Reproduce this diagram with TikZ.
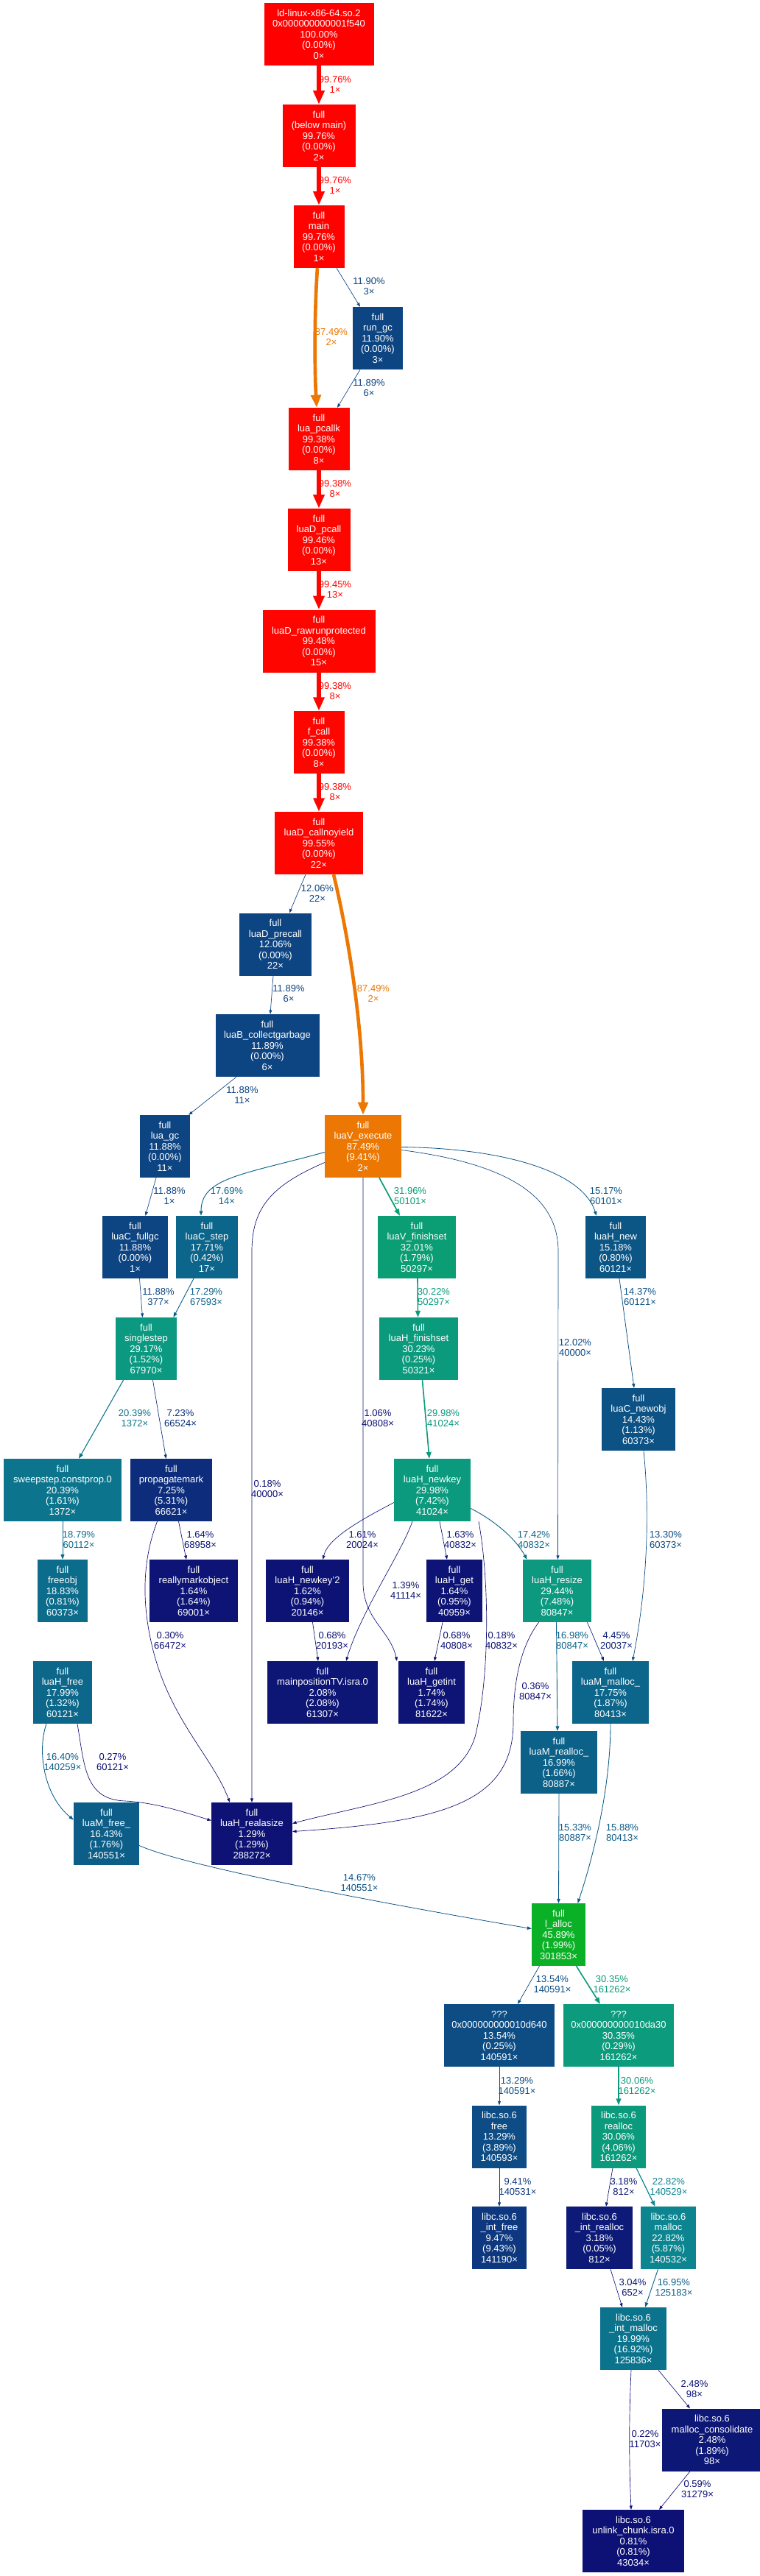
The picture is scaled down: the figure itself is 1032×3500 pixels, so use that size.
\documentclass[tikz,border=0pt]{standalone}
\usepackage{fontspec}
\setmainfont{Liberation Sans}
\usetikzlibrary{arrows.meta}
\newcounter{lab}
\newcommand\mkcol[2]{%
  \pgfmathsetmacro\cH{8*(1-#2)}%
  \pgfmathsetmacro\cS{0.8+0.2*#2}%
  \pgfmathsetmacro\cL{0.25+0.25*#2}%
  \pgfmathsetmacro\cA{\cS*\cL}%
  \pgfmathsetmacro\cR{\cL-\cA*max(-1,min(mod(0+\cH,12)-3,9-mod(0+\cH,12),1))}%
  \pgfmathsetmacro\cG{\cL-\cA*max(-1,min(mod(8+\cH,12)-3,9-mod(8+\cH,12),1))}%
  \pgfmathsetmacro\cB{\cL-\cA*max(-1,min(mod(4+\cH,12)-3,9-mod(4+\cH,12),1))}%
  \edef\tmpdef{\noexpand\definecolor{#1}{rgb}{\cR,\cG,\cB}}\tmpdef}
\tikzset{
  gnode/.style={rectangle, draw=none, minimum height=85pt, inner sep=0pt, align=center, text=white, font=\fontsize{13pt}{14.5pt}\selectfont},
  elab/.style={align=center, inner sep=0pt, font=\fontsize{13pt}{14.5pt}\selectfont},
}
\newcommand\GN[5]{\mkcol{c#1}{#4}\node[gnode, fill=c#1, minimum width=#3pt] (#1) at (#2) {#5};}
\newcommand\GE[5][]{%
  \mkcol{ecol}{#2}%
  \pgfmathsetmacro\ePW{max(4*#2,0.5)*1.333}%
  \pgfmathsetmacro\eAS{0.5*sqrt(max(4*#2,0.5))}%
  \pgfmathsetmacro\eAL{13.3*\eAS+\ePW}%
  \pgfmathsetmacro\eAW{9.3*\eAS+\ePW}%
  \draw[ecol, line width=\ePW pt, -{Triangle[length=\eAL pt, width=\eAW pt]}, #1] #3;
  \stepcounter{lab}\node[elab, text=ecol] (lab\arabic{lab}) at (#4) {#5};}
\begin{document}
\begin{tikzpicture}[x=1pt,y=-1pt]
\useasboundingbox (0,0) rectangle (1032,3500);
\fill[white] (0,0) rectangle (1032,3500);
% nodes
\GN{ld}{433,46.5}{149}{1.0}{ld-linux-x86-64.so.2\\0x000000000001f540\\100.00\%\\(0.00\%)\\0×}
\GN{below}{433,184.5}{99}{0.9976}{full\\(below main)\\99.76\%\\(0.00\%)\\2×}
\GN{main}{433,321.5}{69}{0.9976}{full\\main\\99.76\%\\(0.00\%)\\1×}
\GN{rungc}{513,459.5}{68}{0.1190}{full\\run\_gc\\11.90\%\\(0.00\%)\\3×}
\GN{pcallk}{433,596.5}{83}{0.9938}{full\\lua\_pcallk\\99.38\%\\(0.00\%)\\8×}
\GN{pcall}{433,733.5}{85}{0.9946}{full\\luaD\_pcall\\99.46\%\\(0.00\%)\\13×}
\GN{rawrun}{433,871}{153}{0.9948}{full\\luaD\_rawrunprotected\\99.48\%\\(0.00\%)\\15×}
\GN{fcall}{433,1008.5}{69}{0.9938}{full\\f\_call\\99.38\%\\(0.00\%)\\8×}
\GN{callny}{433,1145.5}{120}{0.9955}{full\\luaD\_callnoyield\\99.55\%\\(0.00\%)\\22×}
\GN{precall}{374,1283}{98}{0.1206}{full\\luaD\_precall\\12.06\%\\(0.00\%)\\22×}
\GN{collect}{363,1420.5}{141}{0.1189}{full\\luaB\_collectgarbage\\11.89\%\\(0.00\%)\\6×}
\GN{luagc}{224,1557.5}{68}{0.1188}{full\\lua\_gc\\11.88\%\\(0.00\%)\\11×}
\GN{exec}{493,1557.5}{104}{0.8749}{full\\luaV\_execute\\87.49\%\\(9.41\%)\\2×}
\GN{fullgc}{183.5,1694.5}{89}{0.1188}{full\\luaC\_fullgc\\11.88\%\\(0.00\%)\\1×}
\GN{cstep}{281,1694.5}{84}{0.1771}{full\\luaC\_step\\17.71\%\\(0.42\%)\\17×}
\GN{vfin}{566,1694.5}{106}{0.3201}{full\\luaV\_finishset\\32.01\%\\(1.79\%)\\50297×}
\GN{hnew}{836,1694.5}{82}{0.1518}{full\\luaH\_new\\15.18\%\\(0.80\%)\\60121×}
\GN{single}{198.5,1832.5}{83}{0.2917}{full\\singlestep\\29.17\%\\(1.52\%)\\67970×}
\GN{hfin}{568.5,1832.5}{107}{0.3023}{full\\luaH\_finishset\\30.23\%\\(0.25\%)\\50321×}
\GN{newobj}{867,1928.5}{100}{0.1443}{full\\luaC\_newobj\\14.43\%\\(1.13\%)\\60373×}
\GN{sweep}{85,2024.5}{160}{0.2039}{full\\sweepstep.constprop.0\\20.39\%\\(1.61\%)\\1372×}
\GN{propag}{232.5,2024.5}{111}{0.0725}{full\\propagatemark\\7.25\%\\(5.31\%)\\66621×}
\GN{newkey}{587,2024.5}{104}{0.2998}{full\\luaH\_newkey\\29.98\%\\(7.42\%)\\41024×}
\GN{freeobj}{85,2161.5}{68}{0.1883}{full\\freeobj\\18.83\%\\(0.81\%)\\60373×}
\GN{rmark}{263,2161.5}{120}{0.0164}{full\\reallymarkobject\\1.64\%\\(1.64\%)\\69001×}
\GN{newkeyb}{417.5,2161.5}{113}{0.0162}{full\\luaH\_newkey'2\\1.62\%\\(0.94\%)\\20146×}
\GN{hget}{617,2161.5}{76}{0.0164}{full\\luaH\_get\\1.64\%\\(0.95\%)\\40959×}
\GN{resize}{756.5,2161.5}{93}{0.2944}{full\\luaH\_resize\\29.44\%\\(7.48\%)\\80847×}
\GN{hfree}{85,2299.5}{80}{0.1799}{full\\luaH\_free\\17.99\%\\(1.32\%)\\60121×}
\GN{mainpos}{438,2299.5}{150}{0.0208}{full\\mainpositionTV.isra.0\\2.08\%\\(2.08\%)\\61307×}
\GN{getint}{586,2299.5}{90}{0.0174}{full\\luaH\_getint\\1.74\%\\(1.74\%)\\81622×}
\GN{mmalloc}{829,2299.5}{104}{0.1775}{full\\luaM\_malloc\_\\17.75\%\\(1.87\%)\\80413×}
\GN{mrealloc}{759,2394.5}{104}{0.1699}{full\\luaM\_realloc\_\\16.99\%\\(1.66\%)\\80887×}
\GN{mfree}{144.5,2491.5}{89}{0.1643}{full\\luaM\_free\_\\16.43\%\\(1.76\%)\\140551×}
\GN{realasize}{342,2491.5}{110}{0.0129}{full\\luaH\_realasize\\1.29\%\\(1.29\%)\\288272×}
\GN{lalloc}{758.5,2628.5}{73}{0.4589}{full\\l\_alloc\\45.89\%\\(1.99\%)\\301853×}
\GN{dsix}{678,2765.5}{150}{0.1354}{???\\0x000000000010d640\\13.54\%\\(0.25\%)\\140591×}
\GN{dathirty}{840,2765.5}{150}{0.3035}{???\\0x000000000010da30\\30.35\%\\(0.29\%)\\161262×}
\GN{cfree}{678,2903}{74}{0.1329}{libc.so.6\\free\\13.29\%\\(3.89\%)\\140593×}
\GN{crealloc}{840,2903}{74}{0.3006}{libc.so.6\\realloc\\30.06\%\\(4.06\%)\\161262×}
\GN{intfree}{678,3040.5}{74}{0.0947}{libc.so.6\\\_int\_free\\9.47\%\\(9.43\%)\\141190×}
\GN{intrealloc}{814,3040.5}{90}{0.0318}{libc.so.6\\\_int\_realloc\\3.18\%\\(0.05\%)\\812×}
\GN{cmalloc}{907.5,3040.5}{75}{0.2282}{libc.so.6\\malloc\\22.82\%\\(5.87\%)\\140532×}
\GN{intmalloc}{860,3177.5}{90}{0.1999}{libc.so.6\\\_int\_malloc\\19.99\%\\(16.92\%)\\125836×}
\GN{consol}{967,3315}{136}{0.0248}{libc.so.6\\malloc\_consolidate\\2.48\%\\(1.89\%)\\98×}
\GN{unlink}{860,3452.5}{138}{0.0081}{libc.so.6\\unlink\_chunk.isra.0\\0.81\%\\(0.81\%)\\43034×}
% edges
\GE{0.9976}{(ld.south) -- (below.north)}{455,115}{99.76\%\\1×}
\GE{0.9976}{(below.south) -- (main.north)}{455,252}{99.76\%\\1×}
\GE{0.8749}{([xshift=-2pt]main.south) .. controls (427,420) and (427,500) .. ([xshift=-3pt]pcallk.north)}{450,458}{87.49\%\\2×}
\GE{0.1190}{([xshift=24pt]main.south) -- ([xshift=-24pt]rungc.north)}{501,389}{11.90\%\\3×}
\GE{0.1189}{([xshift=-24pt]rungc.south) -- ([xshift=25pt]pcallk.north)}{501,527}{11.89\%\\6×}
\GE{0.9938}{(pcallk.south) -- (pcall.north)}{455,664}{99.38\%\\8×}
\GE{0.9945}{(pcall.south) -- (rawrun.north)}{455,801}{99.45\%\\13×}
\GE{0.9938}{(rawrun.south) -- (fcall.north)}{455,939}{99.38\%\\8×}
\GE{0.9938}{(fcall.south) -- (callny.north)}{455,1076}{99.38\%\\8×}
\GE{0.1206}{([xshift=-18pt]callny.south) -- ([xshift=19pt]precall.north)}{431,1214}{12.06\%\\22×}
\GE{0.1189}{([xshift=-3pt]precall.south) -- ([xshift=4pt]collect.north)}{392,1350}{11.89\%\\6×}
\GE{0.8749}{([xshift=20pt]callny.south) .. controls (475,1280) and (493,1400) .. (exec.north)}{507,1350}{87.49\%\\2×}
\GE{0.1188}{([xshift=-42pt]collect.south) -- ([xshift=-2pt]luagc.north east)}{329,1488}{11.88\%\\11×}
\GE{0.1188}{([xshift=-12pt]luagc.south) -- ([xshift=14pt]fullgc.north)}{230,1625}{11.88\%\\1×}
\GE{0.1769}{([yshift=-8pt]exec.west) .. controls (330,1596) and (273,1600) .. ([xshift=-8pt]cstep.north)}{308,1625}{17.69\%\\14×}
\GE{0.0018}{([yshift=-22pt]exec.west) .. controls (370,1610) and (342,1640) .. (342,1700) -- (realasize.north)}{363,2023}{0.18\%\\40000×}
\GE{0.0106}{(exec.south) -- (493,2150) .. controls (493,2200) and (530,2215) .. ([xshift=-47pt]getint.north)}{513,1927}{1.06\%\\40808×}
\GE{0.3196}{([xshift=22pt]exec.south) -- ([xshift=-23pt]vfin.north)}{557,1625}{31.96\%\\50101×}
\GE{0.1202}{([yshift=-5pt]exec.east) .. controls (680,1580) and (758,1620) .. (758,1700) -- ([xshift=1pt]resize.north)}{781,1831}{12.02\%\\40000×}
\GE{0.1517}{([yshift=-1pt]exec.east) .. controls (680,1560) and (790,1590) .. ([xshift=-26pt]hnew.north)}{823,1625}{15.17\%\\60101×}
\GE{0.1188}{([xshift=6pt]fullgc.south) -- ([xshift=-5pt]single.north)}{215,1762}{11.88\%\\377×}
\GE{0.1729}{([xshift=-18pt]cstep.south) -- ([xshift=37pt]single.north)}{280,1762}{17.29\%\\67593×}
\GE{0.3022}{([xshift=1pt]vfin.south) -- ([xshift=-1pt]hfin.north)}{589,1762}{30.22\%\\50297×}
\GE{0.1437}{([xshift=5pt]hnew.south) -- ([xshift=-6pt]newobj.north)}{869,1762}{14.37\%\\60121×}
\GE{0.2039}{([xshift=-31pt]single.south) -- ([xshift=22pt]sweep.north)}{183,1927}{20.39\%\\1372×}
\GE{0.0723}{([xshift=9pt]single.south) -- ([xshift=-7pt]propag.north)}{245,1927}{7.23\%\\66524×}
\GE{0.2998}{([xshift=5pt]hfin.south) -- ([xshift=-4pt]newkey.north)}{602,1927}{29.98\%\\41024×}
\GE{0.1330}{([xshift=7pt]newobj.south) .. controls (882,2050) and (880,2150) .. ([xshift=30pt]mmalloc.north)}{904,2092}{13.30\%\\60373×}
\GE{0.1879}{(sweep.south) -- (freeobj.north)}{107,2092}{18.79\%\\60112×}
\GE{0.0164}{([xshift=10pt]propag.south) -- ([xshift=-10pt]rmark.north)}{272,2092}{1.64\%\\68958×}
\GE{0.0030}{([xshift=-19pt]propag.south) .. controls (197,2110) and (188,2170) .. (210,2250) .. controls (235,2340) and (290,2390) .. ([xshift=-30pt]realasize.north)}{231,2229}{0.30\%\\66472×}
\GE{0.0161}{([yshift=-17pt]newkey.west) .. controls (490,2065) and (445,2090) .. ([xshift=21pt]newkeyb.north)}{492,2092}{1.61\%\\20024×}
\GE{0.0139}{([xshift=-27pt]newkey.south) .. controls (545,2110) and (490,2190) .. ([xshift=32pt]mainpos.north)}{551,2161}{1.39\%\\41114×}
\GE{0.0163}{([xshift=10pt]newkey.south) -- ([xshift=-10pt]hget.north)}{625,2092}{1.63\%\\40832×}
\GE{0.0018}{([xshift=63pt]newkey.south) .. controls (665,2150) and (665,2280) .. (645,2360) .. controls (620,2440) and (500,2450) .. ([yshift=14pt]realasize.east)}{681,2229}{0.18\%\\40832×}
\GE{0.1742}{([yshift=-25pt]newkey.east) .. controls (670,2065) and (700,2090) .. ([xshift=-41pt]resize.north)}{725,2092}{17.42\%\\40832×}
\GE{0.0068}{([xshift=7pt]newkeyb.south) -- ([xshift=-6pt]mainpos.north)}{451,2229}{0.68\%\\20193×}
\GE{0.0068}{([xshift=-16pt]hget.south) -- ([xshift=4pt]getint.north)}{620,2229}{0.68\%\\40808×}
\GE{0.0036}{([xshift=-25pt]resize.south) .. controls (705,2240) and (697,2290) .. (697,2340) .. controls (697,2450) and (600,2475) .. ([yshift=3pt]realasize.east)}{727,2298}{0.36\%\\80847×}
\GE{0.1698}{([xshift=-1pt]resize.south) -- ([xshift=-2pt]mrealloc.north)}{777,2229}{16.98\%\\80847×}
\GE{0.0445}{([xshift=41pt]resize.south) -- ([xshift=-9pt]mmalloc.north)}{837,2229}{4.45\%\\20037×}
\GE{0.1640}{([xshift=-22pt]hfree.south) .. controls (50,2380) and (60,2440) .. ([yshift=19pt]mfree.west)}{85,2394}{16.40\%\\140259×}
\GE{0.0027}{([xshift=20pt]hfree.south) .. controls (115,2400) and (115,2445) .. (170,2447) .. controls (210,2449) and (250,2462) .. ([yshift=18pt]realasize.west)}{153,2394}{0.27\%\\60121×}
\GE{0.1467}{([yshift=-16pt]mfree.east) .. controls (260,2540) and (600,2600) .. ([yshift=8pt]lalloc.west)}{488,2558}{14.67\%\\140551×}
\GE{0.1533}{(mrealloc.south) -- (lalloc.north)}{781,2490}{15.33\%\\80887×}
\GE{0.1588}{(mmalloc.south) .. controls (829,2440) and (800,2540) .. ([xshift=26pt]lalloc.north)}{845,2490}{15.88\%\\80413×}
\GE{0.1354}{([xshift=-26pt]lalloc.south) -- ([xshift=25pt]dsix.north)}{750,2696}{13.54\%\\140591×}
\GE{0.3035}{([xshift=24pt]lalloc.south) -- ([xshift=-25pt]dathirty.north)}{831,2696}{30.35\%\\161262×}
\GE{0.1329}{(dsix.south) -- (cfree.north)}{702,2834}{13.29\%\\140591×}
\GE{0.3006}{(dathirty.south) -- (crealloc.north)}{865,2834}{30.06\%\\161262×}
\GE{0.0941}{(cfree.south) -- (intfree.north)}{703,2971}{9.41\%\\140531×}
\GE{0.0318}{([xshift=-8pt]crealloc.south) -- ([xshift=9pt]intrealloc.north)}{847,2971}{3.18\%\\812×}
\GE{0.2282}{([xshift=24pt]crealloc.south) -- ([xshift=-18pt]cmalloc.north)}{908,2971}{22.82\%\\140529×}
\GE{0.0304}{([xshift=15pt]intrealloc.south) -- ([xshift=-15pt]intmalloc.north)}{859,3108}{3.04\%\\652×}
\GE{0.1695}{([xshift=-14pt]cmalloc.south) -- ([xshift=16pt]intmalloc.north)}{915,3108}{16.95\%\\125183×}
\GE{0.0248}{([xshift=34pt]intmalloc.south) -- ([xshift=-30pt]consol.north)}{943,3246}{2.48\%\\98×}
\GE{0.0022}{([xshift=-3pt]intmalloc.south) .. controls (854,3290) and (854,3340) .. ([xshift=-3pt]unlink.north)}{876,3314}{0.22\%\\11703×}
\GE{0.0059}{([xshift=-30pt]consol.south) -- ([xshift=35pt]unlink.north)}{947,3382}{0.59\%\\31279×}
\end{tikzpicture}
\end{document}
